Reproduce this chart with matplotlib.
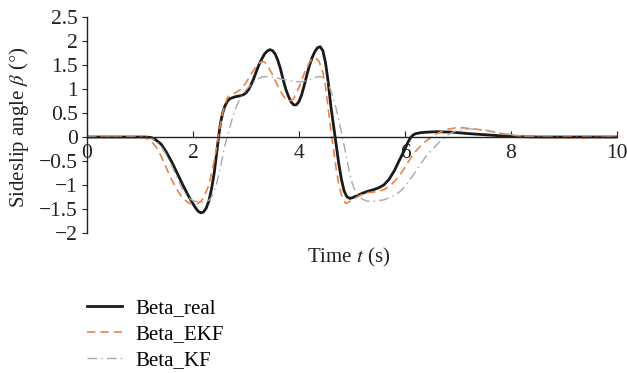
import matplotlib
matplotlib.use("Agg")
import matplotlib.pyplot as plt

# ---- data ----
t_real = [0, 1.0, 1.1, 1.2, 1.25, 1.3, 1.4, 1.5, 1.6, 1.7, 1.8, 1.9, 2.0, 2.05, 2.1, 2.15, 2.2,
          2.25, 2.3, 2.35, 2.4, 2.44, 2.48, 2.52, 2.56, 2.6, 2.65, 2.7, 2.8, 2.9, 2.95, 3.0,
          3.05, 3.1, 3.15, 3.2, 3.25, 3.3, 3.35, 3.4, 3.45, 3.5, 3.55, 3.6, 3.65, 3.7, 3.75,
          3.8, 3.85, 3.9, 3.95, 4.0, 4.05, 4.1, 4.15, 4.2, 4.25, 4.3, 4.35, 4.4, 4.45, 4.5,
          4.55, 4.6, 4.65, 4.7, 4.75, 4.8, 4.85, 4.9, 4.96, 5.02, 5.1, 5.2, 5.3, 5.4, 5.5,
          5.6, 5.7, 5.8, 5.9, 6.0, 6.05, 6.1, 6.15, 6.2, 6.3, 6.4, 6.6, 6.9, 7.2, 7.6, 8.0,
          8.5, 10.0]
beta_real = [0, 0, 0, -0.01, -0.03, -0.06, -0.15, -0.32, -0.52, -0.75, -0.98, -1.2, -1.39,
             -1.48, -1.55, -1.58, -1.56, -1.48, -1.33, -1.08, -0.75, -0.4, -0.02, 0.3, 0.5,
             0.64, 0.75, 0.8, 0.84, 0.86, 0.88, 0.92, 0.99, 1.1, 1.23, 1.38, 1.52, 1.63, 1.73,
             1.79, 1.82, 1.8, 1.73, 1.6, 1.42, 1.2, 1.0, 0.85, 0.73, 0.67, 0.67, 0.74, 0.88,
             1.08, 1.3, 1.5, 1.66, 1.78, 1.86, 1.88, 1.8, 1.55, 1.15, 0.65, 0.25, -0.15, -0.55,
             -0.88, -1.12, -1.24, -1.28, -1.26, -1.22, -1.17, -1.13, -1.1, -1.06, -1.0, -0.88,
             -0.7, -0.47, -0.25, -0.12, -0.02, 0.04, 0.07, 0.09, 0.1, 0.11, 0.1, 0.07, 0.04,
             0.01, 0.0, 0.0]

t_ekf = [0, 1.0, 1.1, 1.2, 1.3, 1.4, 1.5, 1.6, 1.7, 1.8, 1.9, 1.95, 2.0, 2.05, 2.1, 2.15, 2.2,
         2.3, 2.4, 2.5, 2.55, 2.6, 2.65, 2.7, 2.8, 2.9, 3.0, 3.1, 3.2, 3.25, 3.3, 3.35, 3.4,
         3.5, 3.6, 3.7, 3.75, 3.8, 3.85, 3.9, 4.0, 4.1, 4.2, 4.25, 4.28, 4.32, 4.38, 4.45,
         4.5, 4.55, 4.6, 4.65, 4.7, 4.75, 4.8, 4.85, 4.88, 4.92, 5.0, 5.1, 5.2, 5.3, 5.4,
         5.5, 5.6, 5.7, 5.8, 5.9, 6.0, 6.1, 6.2, 6.3, 6.4, 6.5, 6.6, 6.8, 7.0, 7.3, 7.6,
         8.0, 8.4, 8.8, 9.4, 10.0]
beta_ekf = [0, 0, -0.02, -0.08, -0.2, -0.4, -0.65, -0.9, -1.1, -1.27, -1.36, -1.39, -1.4,
            -1.4, -1.38, -1.34, -1.27, -1.0, -0.5, 0.15, 0.45, 0.68, 0.82, 0.88, 0.92, 0.99,
            1.13, 1.32, 1.48, 1.54, 1.57, 1.56, 1.5, 1.3, 1.06, 0.86, 0.79, 0.75, 0.76, 0.8,
            1.03, 1.33, 1.56, 1.63, 1.65, 1.64, 1.57, 1.35, 1.05, 0.6, 0.15, -0.25, -0.65,
            -0.98, -1.2, -1.33, -1.38, -1.37, -1.31, -1.25, -1.19, -1.16, -1.15, -1.13, -1.1,
            -1.03, -0.93, -0.8, -0.63, -0.45, -0.3, -0.18, -0.08, 0.0, 0.07, 0.16, 0.2, 0.17,
            0.12, 0.04, 0.0, -0.02, -0.02, 0.0]

t_kf = [0, 1.1, 1.2, 1.3, 1.4, 1.5, 1.6, 1.7, 1.8, 1.9, 2.0, 2.1, 2.2, 2.3, 2.35, 2.4, 2.45,
        2.5, 2.55, 2.6, 2.66, 2.7, 2.75, 2.8, 2.85, 2.9, 3.0, 3.1, 3.2, 3.3, 3.4, 3.5, 3.7,
        3.9, 4.05, 4.2, 4.3, 4.38, 4.45, 4.5, 4.55, 4.6, 4.65, 4.7, 4.75, 4.82, 4.9, 4.95,
        5.0, 5.05, 5.1, 5.2, 5.3, 5.4, 5.6, 5.8, 5.9, 6.0, 6.1, 6.2, 6.3, 6.4, 6.5, 6.6,
        6.7, 6.8, 6.9, 7.0, 7.2, 7.5, 7.8, 8.2, 8.6, 10.0]
beta_kf = [0, 0, -0.02, -0.08, -0.2, -0.38, -0.6, -0.85, -1.08, -1.25, -1.33, -1.35, -1.36,
           -1.32, -1.25, -1.12, -0.95, -0.72, -0.45, -0.18, 0.05, 0.22, 0.42, 0.58, 0.72,
           0.82, 0.98, 1.1, 1.2, 1.25, 1.26, 1.25, 1.2, 1.16, 1.15, 1.19, 1.24, 1.26, 1.24,
           1.19, 1.1, 0.97, 0.8, 0.6, 0.35, 0.0, -0.45, -0.72, -0.95, -1.1, -1.2, -1.3, -1.34,
           -1.34, -1.31, -1.22, -1.14, -1.03, -0.88, -0.72, -0.55, -0.4, -0.27, -0.16, -0.05,
           0.04, 0.1, 0.14, 0.17, 0.15, 0.08, 0.02, 0.0, 0.0]

x_ticks = [0, 2, 4, 6, 8, 10]
y_ticks = [-2, -1.5, -1, -0.5, 0, 0.5, 1, 1.5, 2, 2.5]
y_tick_labels = ["\u22122", "\u22121.5", "\u22121", "\u22120.5", "0", "0.5", "1", "1.5", "2", "2.5"]
series_labels = ["Beta_real", "Beta_EKF", "Beta_KF"]

plt.rcParams["font.family"] = ["Liberation Serif", "DejaVu Serif"]
plt.rcParams["mathtext.fontset"] = "stix"
FS = 15
TFS = 15.5

fig = plt.figure(figsize=(6.27, 3.73), dpi=100)
ax = fig.add_axes([87 / 627, 1 - 233 / 373, (617 - 87) / 627, (233 - 17) / 373])

l1, = ax.plot(t_real, beta_real, color="#1a1a1a", lw=2.0, solid_joinstyle="round")
l2, = ax.plot(t_ekf, beta_ekf, color="#E8834A", lw=1.2, ls=(0, (5, 3)))
l3, = ax.plot(t_kf, beta_kf, color="#A8A8A8", lw=1.0, ls=(0, (7, 3, 1, 3)))

ax.set_xlim(0, 10)
ax.set_ylim(-2, 2.5)
ax.spines["top"].set_visible(False)
ax.spines["right"].set_visible(False)
ax.spines["bottom"].set_position(("data", 0))
ax.spines["left"].set_position(("data", 0))
for s in ("bottom", "left"):
    ax.spines[s].set_linewidth(1.0)
    ax.spines[s].set_color("#222222")

ax.set_xticks(x_ticks)
ax.set_xticklabels([str(v) for v in x_ticks])
ax.set_yticks(y_ticks)
ax.set_yticklabels(y_tick_labels)
ax.tick_params(axis="x", direction="in", length=4, width=0.8, labelsize=TFS, pad=5, colors="#222222")
ax.tick_params(axis="y", direction="out", length=3.5, width=0.8, labelsize=TFS, pad=3, colors="#222222")

ax.set_xlabel("Time $t$ (s)", fontsize=FS, color="#222222")
ax.xaxis.set_label_coords((349 - 87) / 530, -(246 - 233) / 216)
ax.set_ylabel("Sideslip angle $\\beta$ ($\\degree$)", fontsize=FS, color="#222222")
ax.yaxis.set_label_coords(-(87 - 31) / 530, (233 - 127) / 216)

fig.legend([l1, l2, l3], series_labels, loc="upper left",
           bbox_to_anchor=(87 / 627, 1 - 299 / 373), frameon=False, fontsize=FS,
           handlelength=1.7, handletextpad=0.6, labelspacing=0.3, borderpad=0,
           borderaxespad=0)

fig.savefig("out.png", dpi=100)
